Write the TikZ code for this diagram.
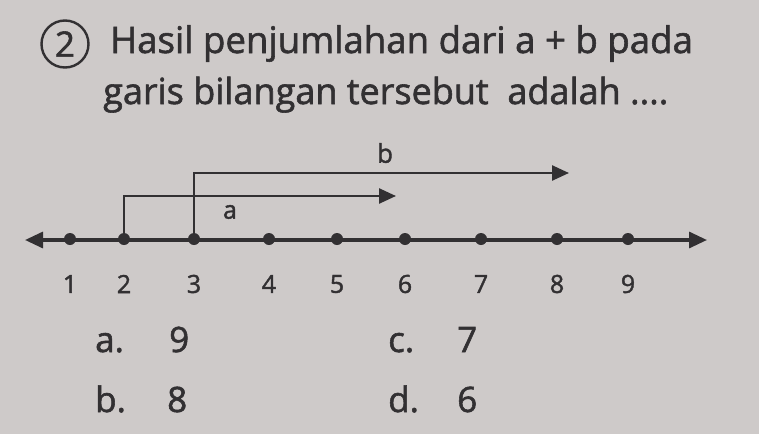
\documentclass[tikz,border=0pt]{standalone}
\usepackage{fontspec}
\setmainfont{Open Sans}[FakeBold=1.6]
\usetikzlibrary{arrows.meta}
\definecolor{ink}{RGB}{50,48,50}
\definecolor{paper}{RGB}{206,202,201}

\begin{document}
\begin{tikzpicture}[x=1pt,y=-1pt,
    txt/.style={inner sep=0pt,anchor=base west,text=ink},
    dot/.style={circle,fill=ink,inner sep=0pt,minimum size=12pt},
    axis/.style={draw=ink,line width=3.2pt,{Triangle[length=18pt,width=16pt]}-{Triangle[length=18pt,width=16pt]}},
    jump/.style={draw=ink,line width=2.5pt,-{Triangle[length=17pt,width=15pt]}}]
  \fill[paper] (0,0) rectangle (759,434);
  \useasboundingbox (0,0) rectangle (759,434);

  % question
  \node[circle,draw=ink,line width=2.4pt,minimum size=47pt,inner sep=0pt,text=ink,
    font=\fontsize{35}{40}\selectfont] (qnum) at (65,44) {2};
  \node[txt,font=\fontsize{36.6}{42}\selectfont] (line1) at (110,53) {Hasil penjumlahan dari a + b pada};
  \node[txt,font=\fontsize{36}{42}\selectfont] (line2) at (103,104) {garis bilangan tersebut\ \ adalah ....};

  % number line
  \coordinate (lft) at (25,240);
  \coordinate (rgt) at (707,240);
  \draw[axis] (lft) -- (rgt);
  \foreach \n/\x in {1/70,2/124,3/194,4/269,5/337,6/405,7/481,8/557,9/628} {
    \node[dot] (d\n) at (\x,239) {};
    \node[text=ink,font=\fontsize{25}{30}\selectfont] (n\n) at (\x,284) {\n};
  }

  \coordinate (atip) at (396,196);
  \coordinate (btip) at (569,173);
  \draw[jump] (d2.center) |- (atip);
  \draw[jump] (d3.center) |- (btip);
  \node[text=ink,font=\fontsize{25}{30}\selectfont] (alabel) at (230,212) {a};
  \node[text=ink,font=\fontsize{26}{30}\selectfont] (blabel) at (385,153) {b};

  % choices
  \begin{scope}[font=\fontsize{35}{40}\selectfont]
    \node[txt] (optA) at (95,352) {a.};
    \node[txt] (valA) at (169,352) {9};
    \node[txt] (optC) at (388,352) {c.};
    \node[txt] (valC) at (457,352) {7};
    \node[txt] (optB) at (95,412) {b.};
    \node[txt] (valB) at (167,412) {8};
    \node[txt] (optD) at (388,412) {d.};
    \node[txt] (valD) at (457,412) {6};
  \end{scope}
\end{tikzpicture}
\end{document}
